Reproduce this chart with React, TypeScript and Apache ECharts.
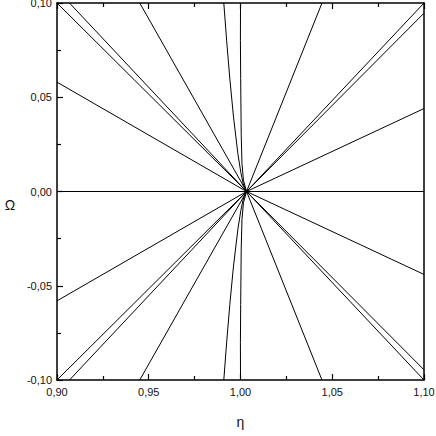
import React, { useEffect, useRef } from "react";
import * as echarts from "echarts";

// Common crossing point of all rays (η, Ω)
const centerEta = 1.0033;
const centerOmega = 0;

// Straight rays: left end -> center -> right end (upper set; lower set is the mirror in Ω)
const rayLeftEta = [0.9, 0.9068, 0.9, 0.9451];
const rayLeftOmega = [0.1, 0.1, 0.058, 0.1];
const rayRightEta = [1.1, 1.1, 1.1, 1.0444];
const rayRightOmega = [-0.0946, -0.1, -0.044, -0.1];

// Near-vertical curved branches (upper halves; lower halves mirror in Ω)
const curve1Eta = [0.9909, 0.99245, 0.99417, 0.99614, 0.99857, 1.0002, 1.0015, 1.0033];
const curve1Omega = [0.1, 0.08, 0.06, 0.04, 0.02, 0.01, 0.004, 0];
const curve2Eta = [1.0, 0.99995, 1.0001, 1.0004, 1.0008, 1.0016, 1.0033];
const curve2Omega = [0.1, 0.08, 0.06, 0.03, 0.015, 0.006, 0];

// Horizontal line Ω = 0
const zeroLineEta = [0.9, 1.1];
const zeroLineOmega = [0, 0];

const xTicks = { min: 0.9, max: 1.1, step: 0.05 };
const yTicks = { min: -0.1, max: 0.1, step: 0.05 };

const fmt = (v: number) => v.toFixed(2).replace(".", ",");

export default function App() {
  const ref = useRef<HTMLDivElement>(null);
  useEffect(() => {
    if (!ref.current) return;
    const chart = echarts.init(ref.current, null, { renderer: "svg" });
    const lineStyle = { color: "#000", width: 1 };
    const mk = (data: number[][]) => ({
      type: "line",
      data,
      showSymbol: false,
      symbol: "none",
      lineStyle,
      silent: true,
      clip: true,
    });
    const series: any[] = [];
    for (let i = 0; i < rayLeftEta.length; i++) {
      series.push(
        mk([
          [rayLeftEta[i], rayLeftOmega[i]],
          [centerEta, centerOmega],
          [rayRightEta[i], rayRightOmega[i]],
        ])
      );
      series.push(
        mk([
          [rayLeftEta[i], -rayLeftOmega[i]],
          [centerEta, -centerOmega],
          [rayRightEta[i], -rayRightOmega[i]],
        ])
      );
    }
    const curve = (es: number[], os: number[]) => {
      const pts: number[][] = [];
      for (let i = 0; i < es.length; i++) pts.push([es[i], os[i]]);
      for (let i = es.length - 2; i >= 0; i--) pts.push([es[i], -os[i]]);
      return pts;
    };
    series.push(mk(curve(curve1Eta, curve1Omega)));
    series.push(mk(curve(curve2Eta, curve2Omega)));
    series.push(mk(zeroLineEta.map((e, i) => [e, zeroLineOmega[i]])));

    const axisLine = { show: true, onZero: false, lineStyle: { color: "#000", width: 1.5 } };
    const labelStyle = { color: "#111", fontSize: 11, fontFamily: "Liberation Sans, Arial, sans-serif" };
    const tick = { show: true, inside: true, length: 6, lineStyle: { color: "#000", width: 1.2 } };
    const minor = { show: true, splitNumber: 2, length: 4, lineStyle: { color: "#000", width: 1.2 } };

    chart.setOption({
      animation: false,
      grid: { left: 57, right: 12, top: 3, bottom: 56, containLabel: false, outerBoundsMode: "none" },
      xAxis: [
        {
          type: "value",
          min: xTicks.min,
          max: xTicks.max,
          interval: xTicks.step,
          position: "bottom",
          axisLine,
          axisTick: tick,
          minorTick: minor,
          splitLine: { show: false },
          axisLabel: { ...labelStyle, margin: 6, formatter: fmt },
          name: "η",
          nameLocation: "middle",
          nameGap: 35,
          nameTextStyle: { color: "#111", fontSize: 14, fontFamily: "Liberation Sans, Arial, sans-serif" },
        },
        {
          type: "value",
          min: xTicks.min,
          max: xTicks.max,
          interval: xTicks.step,
          position: "top",
          axisLine,
          axisTick: tick,
          minorTick: minor,
          splitLine: { show: false },
          axisLabel: { show: false },
        },
      ],
      yAxis: [
        {
          type: "value",
          min: yTicks.min,
          max: yTicks.max,
          interval: yTicks.step,
          position: "left",
          axisLine,
          axisTick: tick,
          minorTick: minor,
          splitLine: { show: false },
          axisLabel: { ...labelStyle, margin: 5, formatter: fmt },
        },
        {
          type: "value",
          min: yTicks.min,
          max: yTicks.max,
          position: "right",
          axisLine,
          axisTick: { show: false },
          splitLine: { show: false },
          axisLabel: { show: false },
        },
      ],
      graphic: [
        {
          type: "text",
          x: 10,
          y: 205,
          style: {
            text: "Ω",
            fill: "#111",
            fontSize: 14,
            fontFamily: "Liberation Sans, Arial, sans-serif",
            align: "center",
            verticalAlign: "middle",
          },
        },
      ],
      series,
    });
    return () => chart.dispose();
  }, []);
  return (
    <div
      ref={ref}
      style={{ position: "fixed", left: 0, top: 0, width: 436, height: 436, background: "#fff" }}
    />
  );
}
